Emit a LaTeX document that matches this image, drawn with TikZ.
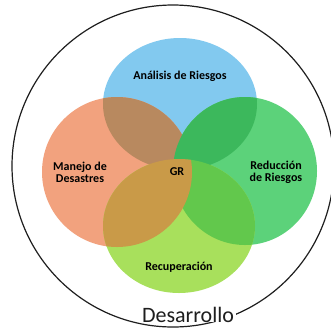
\documentclass[tikz,border=0pt]{standalone}
\usepackage{fontspec}
\setmainfont{Carlito}
\definecolor{cB}{HTML}{82C9EF}
\definecolor{cO}{HTML}{F2A27E}
\definecolor{cG}{HTML}{5CD27A}
\definecolor{cL}{HTML}{A8E05C}
\definecolor{cOB}{HTML}{B8895F}
\definecolor{cGB}{HTML}{3CB85C}
\definecolor{cOL}{HTML}{C99A48}
\definecolor{cGL}{HTML}{62C84C}
\definecolor{ink}{HTML}{1E1E1E}
\tikzset{
  lbl/.style={font=\bfseries\fontsize{12}{12}\selectfont, text=black, align=center, inner sep=0pt},
}
\newcommand{\shB}{(180,104) ellipse [x radius=77pt, y radius=66pt]}
\newcommand{\shO}{(117,172) ellipse [x radius=75pt, y radius=75pt]}
\newcommand{\shG}{(245,171) ellipse [x radius=72pt, y radius=74pt]}
\newcommand{\shL}{(179,226) ellipse [x radius=76pt, y radius=67pt]}
\begin{document}
\begin{tikzpicture}[x=1pt,y=-1pt]
\useasboundingbox (0,0) rectangle (331,330);
\fill[white] (0,0) rectangle (331,330);
% outer circle
\draw[ink, line width=1.2pt] (173,166) circle [radius=161pt];
% base sets
\fill[cB] \shB;
\fill[cG] \shG;
\fill[cO] \shO;
\fill[cL] \shL;
% overlaps
\begin{scope}\clip \shB; \fill[cOB] \shO; \end{scope}
\begin{scope}\clip \shB; \fill[cGB] \shG; \end{scope}
\begin{scope}\clip \shL; \fill[cGL] \shG; \end{scope}
\begin{scope}\clip \shL; \fill[cOL] \shO; \end{scope}
% labels
\node[lbl] (ana) at (180,76) {Análisis de Riesgos};
\node[lbl] (man) at (80,172) {Manejo de\\Desastres};
\node[lbl] (red) at (276,172) {Reducción\\de Riesgos};
\node[lbl] (rec) at (179,267) {Recuperación};
\node[lbl] (gr) at (177,172) {GR};
\node[fill=white, inner xsep=2pt, inner ysep=0pt, anchor=base, text=ink,
      font=\fontsize{22}{22}\selectfont] (des) at (188,322) {Desarrollo};
\end{tikzpicture}
\end{document}
